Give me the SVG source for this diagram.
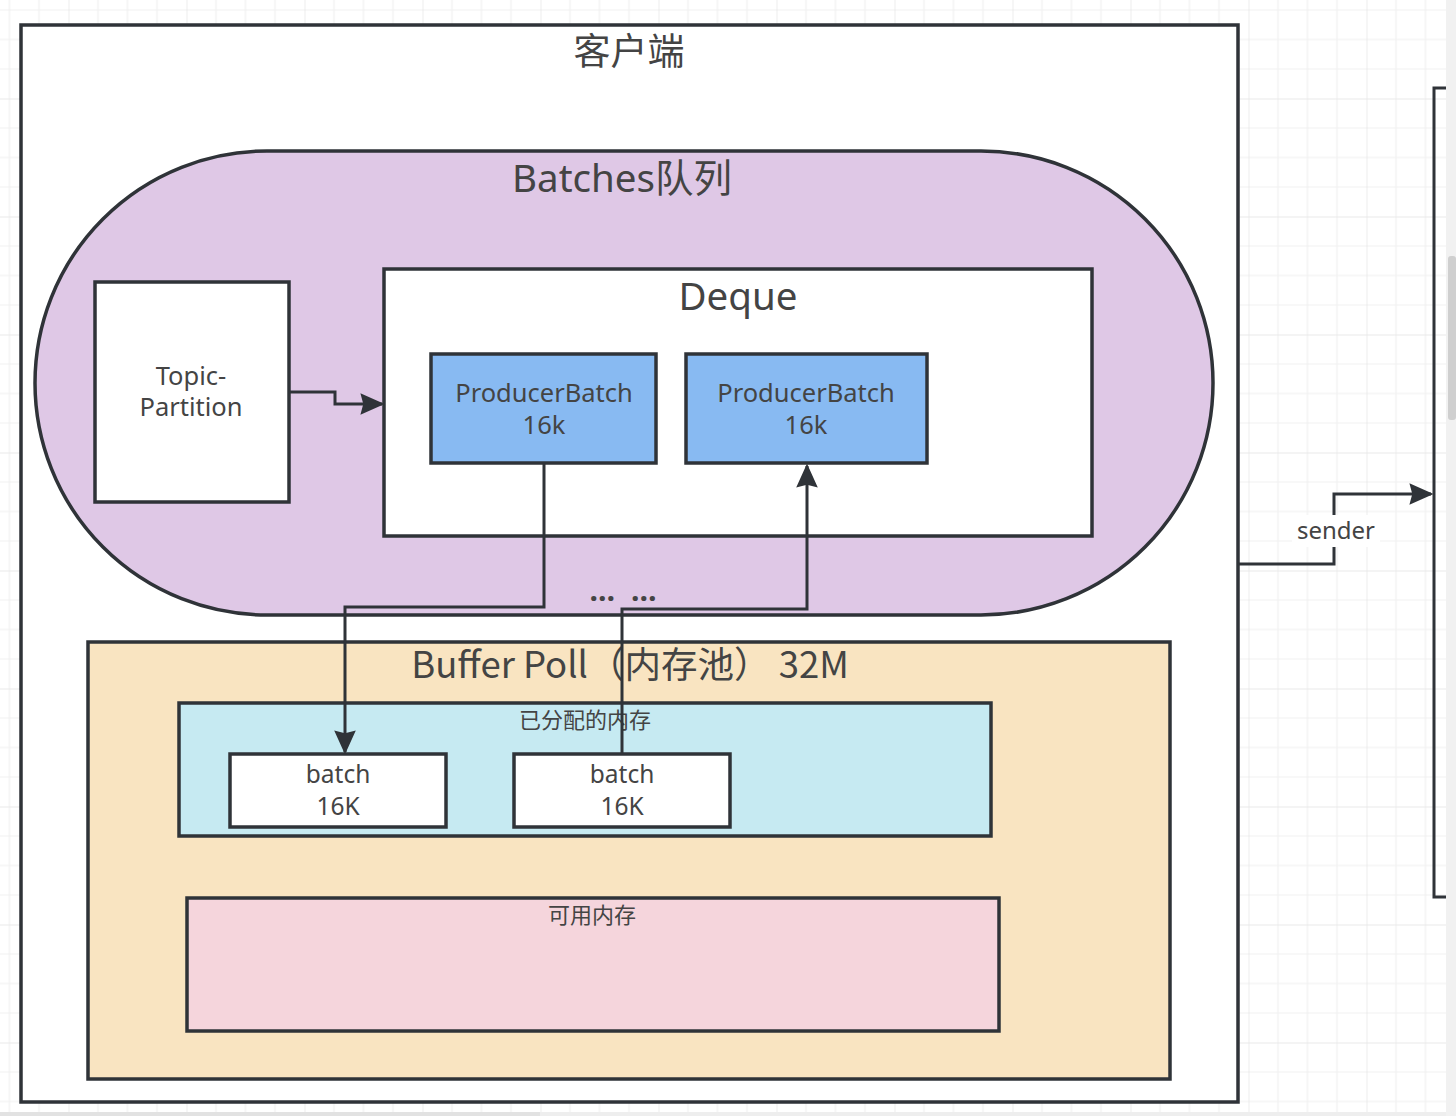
<svg xmlns="http://www.w3.org/2000/svg" width="1456" height="1116" viewBox="0 0 1456 1116">
<defs>
<pattern id="grid" patternUnits="userSpaceOnUse" x="68.5" y="98.5" width="118" height="118">
<path d="M29.5 0V118M59 0V118M88.5 0V118M0 29.5H118M0 59H118M0 88.5H118" stroke="#f0f0f0" stroke-width="1.2" fill="none"/>
<path d="M0 0V118M0 0H118" stroke="#e4e4e4" stroke-width="1.4" fill="none"/>
</pattern>
<marker id="arr" viewBox="0 0 10 10" refX="9" refY="5" markerWidth="24" markerHeight="24" markerUnits="userSpaceOnUse" orient="auto">
<path d="M0 0.5L10 5L0 9.5L1.2 5Z" fill="#2f3338"/>
</marker>
<style>
.box{stroke:#2f3338;stroke-width:3.5}
.conn{fill:none;stroke:#2f3338;stroke-width:3}
.t{font-family:"Noto Sans","Open Sans","Noto Sans CJK SC",sans-serif;fill:#444;text-anchor:middle}
.cn{font-family:"Noto Sans CJK SC","Noto Sans",sans-serif;fill:#444;text-anchor:middle}
</style>
</defs>
<rect width="1456" height="1116" fill="#ffffff"/>
<rect width="1446" height="1112" fill="url(#grid)"/>
<rect x="1446" y="0" width="10" height="1116" fill="#f1f1f1"/>
<rect x="1448" y="256" width="8" height="164" rx="3" fill="#cfcfcf"/>
<rect x="0" y="1112" width="1446" height="4" fill="#eeeeee"/>
<rect x="0" y="1112" width="540" height="4" fill="#e2e2e2"/>

<g id="server">
<path d="M1446 88H1434V897H1446" class="conn"/>
</g>

<g id="client">
<rect x="21" y="25" width="1217" height="1077" fill="#ffffff" class="box"/>
<text x="629" y="65" class="cn" font-size="37">客户端</text>
</g>

<g id="batches">
<rect x="35" y="151" width="1178" height="464" rx="232" ry="232" fill="#dfc8e6" class="box"/>
<text x="622" y="192" class="t" font-size="38.5">Batches队列</text>
</g>

<g id="topic-partition">
<rect x="95" y="282" width="194" height="220" fill="#ffffff" class="box"/>
<text x="191" y="385" class="t" font-size="25.5">Topic-</text>
<text x="191" y="416" class="t" font-size="25.5">Partition</text>
</g>

<g id="deque">
<rect x="384" y="269" width="708" height="267" fill="#ffffff" class="box"/>
<text x="738" y="310" class="t" font-size="38.5">Deque</text>
</g>

<g id="producer-batch-1">
<rect x="431" y="354" width="225" height="109" fill="#88baf2" class="box"/>
<text x="544" y="402" class="t" font-size="25.5">ProducerBatch</text>
<text x="544" y="434" class="t" font-size="25.5">16k</text>
</g>

<g id="producer-batch-2">
<rect x="686" y="354" width="241" height="109" fill="#88baf2" class="box"/>
<text x="806" y="402" class="t" font-size="25.5">ProducerBatch</text>
<text x="806" y="434" class="t" font-size="25.5">16k</text>
</g>

<g id="ellipsis">
<text x="623" y="601" class="t" font-size="30" font-weight="bold" fill="#333" word-spacing="8">… …</text>
</g>

<g id="buffer-pool">
<rect x="88" y="642" width="1082" height="437" fill="#f9e4c1" class="box"/>
<text x="630" y="678" class="cn" font-size="36.5">Buffer Poll（内存池） 32M</text>
</g>

<g id="allocated">
<rect x="179" y="703" width="812" height="133" fill="#c6eaf2" class="box"/>
<text x="585" y="728" class="cn" font-size="22">已分配的内存</text>
</g>

<g id="batch-1">
<rect x="230" y="754" width="216" height="73" fill="#ffffff" class="box"/>
<text x="338" y="783" class="t" font-size="24.5">batch</text>
<text x="338" y="815" class="t" font-size="24.5">16K</text>
</g>

<g id="batch-2">
<rect x="514" y="754" width="216" height="73" fill="#ffffff" class="box"/>
<text x="622" y="783" class="t" font-size="24.5">batch</text>
<text x="622" y="815" class="t" font-size="24.5">16K</text>
</g>

<g id="free-memory">
<rect x="187" y="898" width="812" height="133" fill="#f5d5dc" class="box"/>
<text x="592" y="923" class="cn" font-size="22">可用内存</text>
</g>

<g id="connectors">
<path d="M289 392H335V404H382" class="conn" marker-end="url(#arr)"/>
<path d="M544 463V607H345V752" class="conn" marker-end="url(#arr)"/>
<path d="M622 754V609H807V466" class="conn" marker-end="url(#arr)"/>
<path d="M1238 564H1334V494H1431" class="conn" marker-end="url(#arr)"/>
<rect x="1292" y="515" width="88" height="32" fill="#ffffff"/>
<text x="1336" y="539" class="t" font-size="24">sender</text>
</g>
</svg>
